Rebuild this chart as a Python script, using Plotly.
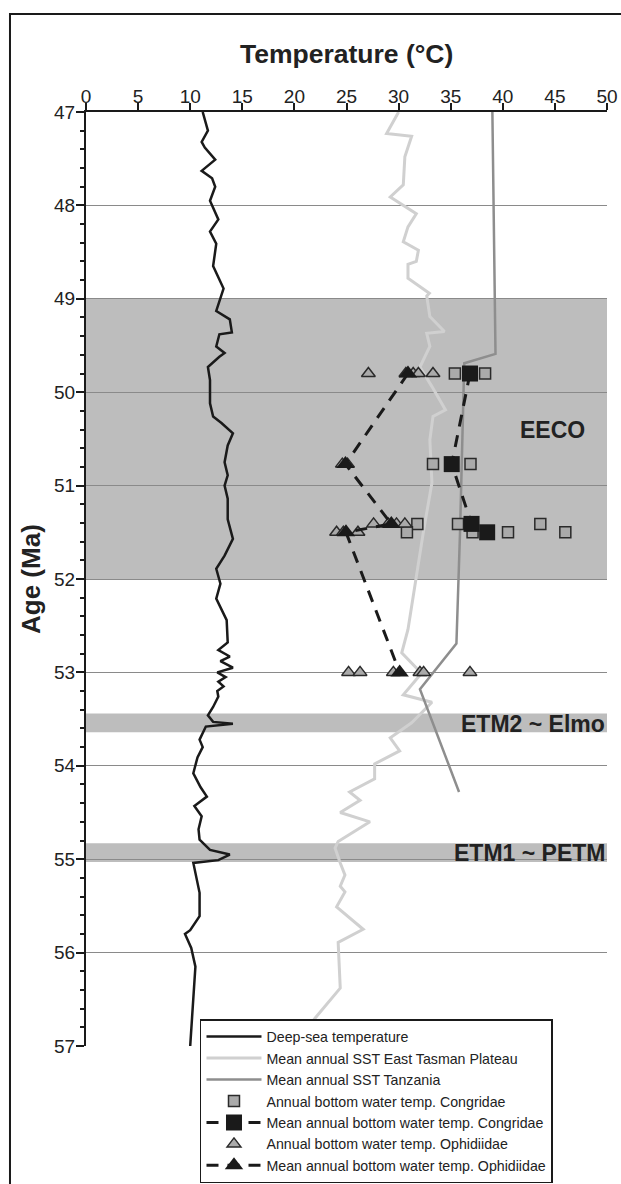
import plotly.graph_objects as go

# ---------------- data ----------------
# Deep-sea temperature (°C) vs age (Ma)
deep_age = [47.0, 47.2, 47.32, 47.38, 47.51, 47.63, 47.71, 47.8, 47.95, 48.15, 48.28, 48.41, 48.65,
            48.89, 49.13, 49.22, 49.36, 49.38, 49.51, 49.58, 49.62, 49.73, 49.87, 50.12, 50.26, 50.33,
            50.44, 50.57, 50.75, 50.89, 51.0, 51.14, 51.36, 51.57, 51.75, 51.89, 52.05, 52.21, 52.44,
            52.68, 52.76, 52.83, 52.88, 52.95, 53.0, 53.05, 53.1, 53.15, 53.2, 53.26, 53.37, 53.46,
            53.53, 53.55, 53.58, 53.72, 53.8, 53.91, 54.08, 54.23, 54.33, 54.43, 54.54, 54.68, 54.79,
            54.9, 54.95, 55.01, 55.04, 55.19, 55.36, 55.61, 55.76, 55.8, 55.95, 56.15, 56.5, 56.8, 57.0]
deep_temp = [11.2, 11.7, 11.1, 11.4, 12.4, 11.1, 12.1, 12.4, 11.9, 12.7, 11.9, 12.5, 12.2,
             13.2, 12.5, 13.8, 14.0, 12.8, 12.5, 13.3, 12.8, 11.7, 11.9, 11.9, 12.2, 13.0,
             14.1, 13.6, 13.3, 13.6, 13.3, 13.6, 13.6, 14.1, 13.3, 12.5, 12.9, 12.5, 13.5,
             13.6, 12.7, 13.8, 12.9, 14.1, 12.6, 13.4, 12.7, 13.2, 12.6, 12.7, 12.2, 11.7,
             12.2, 14.1, 11.5, 10.9, 11.2, 10.7, 10.3, 11.0, 11.6, 10.4, 11.1, 10.8, 10.9,
             11.9, 13.8, 12.7, 10.3, 10.6, 10.9, 10.9, 10.0, 9.5, 10.1, 10.5, 10.3, 10.1, 10.0]

# Mean annual SST East Tasman Plateau
etp_age = [47.0, 47.23, 47.26, 47.48, 47.78, 47.91, 48.09, 48.23, 48.39, 48.48, 48.6, 48.63, 48.78,
           48.94, 48.97, 49.19, 49.35, 49.37, 49.51, 49.73, 49.94, 50.19, 50.26, 50.51, 50.97,
           51.48, 52.54, 52.79, 53.01, 53.24, 53.32, 53.54, 53.7, 53.84, 53.98, 54.14, 54.28,
           54.37, 54.5, 54.6, 54.81, 54.88, 55.04, 55.17, 55.29, 55.35, 55.51, 55.75, 55.89,
           56.38, 56.7, 56.85]
etp_temp = [30.0, 28.85, 31.25, 30.6, 30.45, 29.2, 31.7, 30.9, 30.45, 31.9, 31.7, 30.9, 30.9,
            32.95, 32.7, 33.0, 34.4, 32.7, 33.0, 32.05, 33.2, 34.5, 33.3, 33.0, 33.2,
            32.4, 30.9, 30.3, 32.2, 30.45, 33.2, 31.25, 29.2, 30.1, 27.7, 27.7, 25.3,
            26.3, 24.4, 27.25, 24.2, 23.9, 24.4, 24.85, 24.4, 24.85, 24.05, 26.6, 24.2,
            24.4, 22.0, 21.0]

# Mean annual SST Tanzania
tz_age = [47.0, 49.59, 49.69, 51.48, 52.69, 53.18, 54.28]
tz_temp = [39.0, 39.3, 36.3, 35.9, 35.55, 32.05, 35.8]

# Annual bottom water temp. Congridae
cong_age = [49.8, 49.8, 50.77, 50.77, 51.41, 51.41, 51.41, 51.5, 51.5, 51.5, 51.5]
cong_temp = [35.4, 38.3, 33.3, 36.9, 31.8, 35.7, 43.6, 30.8, 37.1, 40.5, 46.0]

# Mean annual bottom water temp. Congridae
cong_mean_age = [49.8, 50.77, 51.41, 51.5]
cong_mean_temp = [36.85, 35.1, 37.0, 38.5]

# Annual bottom water temp. Ophidiidae
oph_age = [49.8, 49.8, 49.8, 49.8, 49.8, 50.77, 50.77, 51.41, 51.41, 51.41, 51.41,
           51.5, 51.5, 51.5, 53.0, 53.0, 53.0, 53.0, 53.0, 53.0]
oph_temp = [27.1, 31.4, 31.9, 33.3, 30.7, 24.6, 25.1, 27.6, 29.0, 29.8, 30.6,
            24.05, 24.7, 26.1, 25.2, 26.3, 29.5, 32.05, 32.4, 36.85]

# Mean annual bottom water temp. Ophidiidae
oph_mean_age = [49.8, 50.77, 51.41, 51.5, 53.0]
oph_mean_temp = [30.9, 24.9, 29.3, 24.95, 30.1]

# Shaded intervals
band_names = ["EECO", "ETM2 ~ Elmo", "ETM1 ~ PETM"]
band_start = [49.0, 53.44, 54.83]
band_end = [52.0, 53.64, 55.03]

x_ticks = [0, 5, 10, 15, 20, 25, 30, 35, 40, 45, 50]
y_ticks = [47, 48, 49, 50, 51, 52, 53, 54, 55, 56, 57]

# ---------------- figure ----------------
FONT = "Arial, Liberation Sans, sans-serif"
fig = go.Figure()

fig.add_trace(go.Scatter(x=deep_temp, y=deep_age, mode="lines", name="Deep-sea temperature",
                         line=dict(color="#1a1a1a", width=2.5)))
fig.add_trace(go.Scatter(x=etp_temp, y=etp_age, mode="lines", name="Mean annual SST East Tasman Plateau",
                         line=dict(color="#d0d0d0", width=3)))
fig.add_trace(go.Scatter(x=tz_temp, y=tz_age, mode="lines", name="Mean annual SST Tanzania",
                         line=dict(color="#8e8e8e", width=2.5)))
fig.add_trace(go.Scatter(x=cong_temp, y=cong_age, mode="markers",
                         name="Annual bottom water temp. Congridae",
                         marker=dict(symbol="square", size=11, color="#aaaaaa",
                                     line=dict(color="#2a2a2a", width=1.5))))
fig.add_trace(go.Scatter(x=cong_mean_temp, y=cong_mean_age, mode="lines+markers",
                         name="Mean annual bottom water temp. Congridae",
                         line=dict(color="#1a1a1a", width=3, dash="12px,9px"),
                         marker=dict(symbol="square", size=16, color="#1a1a1a")))
fig.add_trace(go.Scatter(x=oph_temp, y=oph_age, mode="markers",
                         name="Annual bottom water temp. Ophidiidae",
                         marker=dict(symbol="triangle-up", size=12, color="#aaaaaa",
                                     line=dict(color="#2a2a2a", width=1.5))))
fig.add_trace(go.Scatter(x=oph_mean_temp, y=oph_mean_age, mode="lines+markers",
                         name="Mean annual bottom water temp. Ophidiidae",
                         line=dict(color="#1a1a1a", width=3, dash="12px,9px"),
                         marker=dict(symbol="triangle-up", size=16, color="#1a1a1a")))

shapes = []
for s, e in zip(band_start, band_end):
    shapes.append(dict(type="rect", xref="paper", yref="y", x0=0, x1=1, y0=s, y1=e,
                       fillcolor="#bdbdbd", line=dict(width=0), layer="below"))
# outer frame (extends past the right and bottom edges of the picture)
shapes.append(dict(type="rect", xref="paper", yref="paper", x0=-0.1459, x1=1.2, y0=-0.3, y1=1.1049,
                   line=dict(color="#1a1a1a", width=2), fillcolor="rgba(0,0,0,0)", layer="above"))

annotations = [
    dict(x=44.8, y=50.40, xref="x", yref="y", text="<b>" + band_names[0] + "</b>", showarrow=False,
         font=dict(family=FONT, size=23, color="#222222"), xanchor="center", yanchor="middle"),
    dict(x=50, y=53.55, xref="x", yref="y", text="<b>" + band_names[1] + "</b>", showarrow=False,
         font=dict(family=FONT, size=23, color="#222222"), xanchor="right", yanchor="middle"),
    dict(x=50, y=54.93, xref="x", yref="y", text="<b>" + band_names[2] + "</b>", showarrow=False,
         font=dict(family=FONT, size=23, color="#222222"), xanchor="right", yanchor="middle"),
    # axis titles
    dict(x=0.5, y=1.0625, xref="paper", yref="paper", text="<b>Temperature (°C)</b>", showarrow=False,
         font=dict(family=FONT, size=26.5, color="#222222"), xanchor="center", yanchor="middle"),
    dict(x=-0.1056, y=0.5, xref="paper", yref="paper", text="<b>Age (Ma)</b>", showarrow=False,
         textangle=-90, font=dict(family=FONT, size=26, color="#222222"),
         xanchor="center", yanchor="middle"),
]

fig.update_layout(
    width=621, height=1184,
    margin=dict(l=86, r=14, t=112, b=138, autoexpand=False),
    paper_bgcolor="white", plot_bgcolor="white",
    font=dict(family=FONT, color="#222222"),
    shapes=shapes, annotations=annotations,
    showlegend=True,
    legend=dict(x=0.2188, y=0.0285, xanchor="left", yanchor="top",
                bgcolor="white", bordercolor="#1a1a1a", borderwidth=1.5,
                font=dict(family=FONT, size=14.2, color="#222222"),
                itemwidth=55, traceorder="normal"),
    xaxis=dict(side="top", range=[0, 50], tickvals=x_ticks, ticktext=[str(v) for v in x_ticks],
               ticks="outside", ticklen=7, tickwidth=1.5, tickcolor="#1a1a1a",
               showline=True, linecolor="#1a1a1a", linewidth=2, showgrid=False, zeroline=False,
               ticklabelstandoff=-8,
               tickfont=dict(family=FONT, size=19, color="#222222")),
    yaxis=dict(range=[57, 47], tickvals=y_ticks, ticktext=[str(v) for v in y_ticks],
               ticks="outside", ticklen=8, tickwidth=1.5, tickcolor="#1a1a1a",
               showline=True, linecolor="#1a1a1a", linewidth=2,
               showgrid=True, gridcolor="#8a8a8a", gridwidth=1, zeroline=False,
               ticklabelstandoff=-3,
               minor=dict(dtick=0.2, ticks="outside", ticklen=4, tickwidth=1.5,
                          tickcolor="#1a1a1a", showgrid=False),
               tickfont=dict(family=FONT, size=19, color="#222222")),
)

fig.write_html("out.html", config={"displayModeBar": False},
               post_script="document.body.style.margin='0px';document.body.style.overflow='hidden';")
